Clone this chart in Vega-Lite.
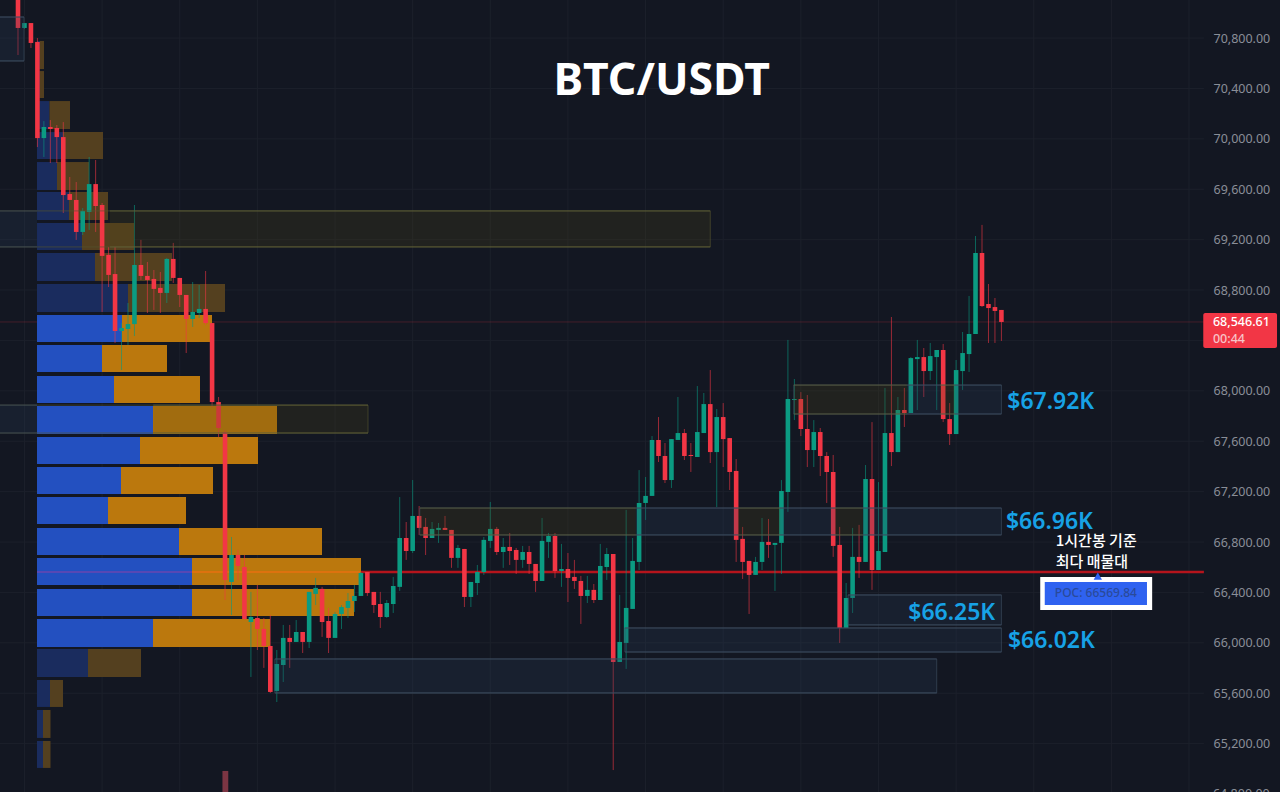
{"$schema":"https://vega.github.io/schema/vega-lite/v6.json","width":1280,"height":792,"padding":0,"autosize":{"type":"none"},"background":"#131722","view":{"stroke":null},"config":{"view":{"stroke":null}},
"datasets":{
"candles":[
{"t":0,"o":71142,"c":70880,"h":71181,"l":70665,"d":"down"},{"t":1,"o":70880,"c":70919,"h":70919,"l":70872,"d":"up"},{"t":2,"o":70919,"c":70761,"h":70919,"l":70721,"d":"down"},{"t":3,"o":70769,"c":70006,"h":70800,"l":69935,"d":"down"},{"t":4,"o":70006,"c":70094,"h":70141,"l":69856,"d":"up"},{"t":5,"o":70094,"c":70078,"h":70149,"l":69808,"d":"down"},{"t":6,"o":70086,"c":70014,"h":70110,"l":69808,"d":"down"},{"t":7,"o":70014,"c":69554,"h":70133,"l":69412,"d":"down"},{"t":8,"o":69562,"c":69515,"h":69697,"l":69515,"d":"down"},{"t":9,"o":69515,"c":69261,"h":69657,"l":69198,"d":"down"},
{"t":10,"o":69261,"c":69428,"h":69451,"l":69237,"d":"up"},{"t":11,"o":69420,"c":69641,"h":69856,"l":69277,"d":"up"},{"t":12,"o":69641,"c":69467,"h":69832,"l":69261,"d":"down"},{"t":13,"o":69475,"c":69071,"h":69491,"l":68626,"d":"down"},{"t":14,"o":69079,"c":68920,"h":69142,"l":68824,"d":"down"},{"t":15,"o":68927,"c":68475,"h":69142,"l":68380,"d":"down"},{"t":16,"o":68475,"c":68499,"h":68538,"l":68165,"d":"up"},{"t":17,"o":68491,"c":68530,"h":68697,"l":68364,"d":"up"},{"t":18,"o":68530,"c":68999,"h":69475,"l":68435,"d":"up"},{"t":19,"o":68999,"c":68912,"h":69198,"l":68880,"d":"down"},
{"t":20,"o":68912,"c":68880,"h":69023,"l":68618,"d":"down"},{"t":21,"o":68888,"c":68809,"h":68959,"l":68642,"d":"down"},{"t":22,"o":68817,"c":68777,"h":68943,"l":68618,"d":"down"},{"t":23,"o":68777,"c":69047,"h":69055,"l":68697,"d":"up"},{"t":24,"o":69047,"c":68896,"h":69174,"l":68856,"d":"down"},{"t":25,"o":68896,"c":68761,"h":68896,"l":68665,"d":"down"},{"t":26,"o":68761,"c":68570,"h":68761,"l":68300,"d":"down"},{"t":27,"o":68570,"c":68626,"h":68864,"l":68507,"d":"up"},{"t":28,"o":68618,"c":68650,"h":68840,"l":68578,"d":"up"},{"t":29,"o":68650,"c":68538,"h":68951,"l":68523,"d":"down"},
{"t":30,"o":68538,"c":67911,"h":68538,"l":67871,"d":"down"},{"t":31,"o":67911,"c":67705,"h":67951,"l":67633,"d":"down"},{"t":32,"o":67673,"c":66499,"h":67689,"l":66340,"d":"down"},{"t":33,"o":66483,"c":66697,"h":66840,"l":66221,"d":"up"},{"t":34,"o":66697,"c":66610,"h":66737,"l":66499,"d":"down"},{"t":35,"o":66602,"c":66189,"h":66697,"l":66181,"d":"down"},{"t":36,"o":66165,"c":66205,"h":66404,"l":65729,"d":"up"},{"t":37,"o":66197,"c":66110,"h":66459,"l":65943,"d":"down"},{"t":38,"o":66110,"c":65975,"h":66197,"l":65801,"d":"down"},{"t":39,"o":65975,"c":65610,"h":66221,"l":65602,"d":"down"},
{"t":40,"o":65618,"c":65832,"h":65943,"l":65530,"d":"up"},{"t":41,"o":65824,"c":66039,"h":66142,"l":65689,"d":"up"},{"t":42,"o":66039,"c":66007,"h":66142,"l":65801,"d":"down"},{"t":43,"o":66007,"c":66086,"h":66181,"l":66007,"d":"up"},{"t":44,"o":66086,"c":66007,"h":66086,"l":65919,"d":"down"},{"t":45,"o":66007,"c":66404,"h":66404,"l":65959,"d":"up"},{"t":46,"o":66388,"c":66436,"h":66515,"l":66300,"d":"up"},{"t":47,"o":66428,"c":66165,"h":66444,"l":66047,"d":"down"},{"t":48,"o":66173,"c":66039,"h":66277,"l":65919,"d":"down"},{"t":49,"o":66039,"c":66229,"h":66245,"l":66039,"d":"up"},
{"t":50,"o":66229,"c":66284,"h":66300,"l":66110,"d":"up"},{"t":51,"o":66277,"c":66332,"h":66395,"l":66197,"d":"up"},{"t":52,"o":66332,"c":66372,"h":66459,"l":66245,"d":"up"},{"t":53,"o":66372,"c":66554,"h":66562,"l":66372,"d":"up"},{"t":54,"o":66562,"c":66395,"h":66562,"l":66372,"d":"down"},{"t":55,"o":66404,"c":66300,"h":66404,"l":66237,"d":"down"},{"t":56,"o":66308,"c":66205,"h":66404,"l":66118,"d":"down"},{"t":57,"o":66205,"c":66316,"h":66340,"l":66197,"d":"up"},{"t":58,"o":66308,"c":66451,"h":66523,"l":66237,"d":"up"},{"t":59,"o":66444,"c":66832,"h":67157,"l":66412,"d":"up"},
{"t":60,"o":66832,"c":66729,"h":66959,"l":66658,"d":"down"},{"t":61,"o":66729,"c":67007,"h":67292,"l":66713,"d":"up"},{"t":62,"o":67007,"c":66912,"h":67086,"l":66856,"d":"down"},{"t":63,"o":66920,"c":66832,"h":66991,"l":66697,"d":"down"},{"t":64,"o":66832,"c":66904,"h":66959,"l":66832,"d":"up"},{"t":65,"o":66896,"c":66912,"h":66951,"l":66793,"d":"up"},{"t":66,"o":66912,"c":66896,"h":67007,"l":66896,"d":"down"},{"t":67,"o":66896,"c":66674,"h":66896,"l":66595,"d":"down"},{"t":68,"o":66674,"c":66753,"h":66777,"l":66595,"d":"up"},{"t":69,"o":66745,"c":66364,"h":66745,"l":66284,"d":"down"},
{"t":70,"o":66364,"c":66483,"h":66483,"l":66284,"d":"up"},{"t":71,"o":66475,"c":66562,"h":66618,"l":66380,"d":"up"},{"t":72,"o":66562,"c":66817,"h":66840,"l":66539,"d":"up"},{"t":73,"o":66809,"c":66904,"h":67118,"l":66753,"d":"up"},{"t":74,"o":66904,"c":66721,"h":66920,"l":66697,"d":"down"},{"t":75,"o":66721,"c":66761,"h":66832,"l":66595,"d":"up"},{"t":76,"o":66761,"c":66729,"h":66872,"l":66618,"d":"down"},{"t":77,"o":66737,"c":66658,"h":66753,"l":66546,"d":"down"},{"t":78,"o":66658,"c":66721,"h":66769,"l":66595,"d":"up"},{"t":79,"o":66721,"c":66626,"h":66769,"l":66546,"d":"down"},
{"t":80,"o":66626,"c":66491,"h":66626,"l":66404,"d":"down"},{"t":81,"o":66491,"c":66809,"h":66991,"l":66491,"d":"up"},{"t":82,"o":66801,"c":66848,"h":66872,"l":66674,"d":"up"},{"t":83,"o":66848,"c":66570,"h":66872,"l":66515,"d":"down"},{"t":84,"o":66570,"c":66586,"h":66785,"l":66444,"d":"up"},{"t":85,"o":66586,"c":66515,"h":66713,"l":66324,"d":"down"},{"t":86,"o":66523,"c":66491,"h":66658,"l":66428,"d":"down"},{"t":87,"o":66491,"c":66372,"h":66531,"l":66150,"d":"down"},{"t":88,"o":66372,"c":66420,"h":66531,"l":66316,"d":"up"},{"t":89,"o":66420,"c":66340,"h":66467,"l":66316,"d":"down"},
{"t":90,"o":66340,"c":66610,"h":66785,"l":66340,"d":"up"},{"t":91,"o":66602,"c":66705,"h":66753,"l":66499,"d":"up"},{"t":92,"o":66705,"c":65848,"h":66705,"l":64990,"d":"down"},{"t":93,"o":65848,"c":66007,"h":66380,"l":65848,"d":"up"},{"t":94,"o":65999,"c":66277,"h":67055,"l":65793,"d":"up"},{"t":95,"o":66269,"c":66650,"h":66832,"l":66269,"d":"up"},{"t":96,"o":66642,"c":67110,"h":67371,"l":66578,"d":"up"},{"t":97,"o":67110,"c":67166,"h":67316,"l":66975,"d":"up"},{"t":98,"o":67166,"c":67610,"h":67641,"l":67166,"d":"up"},{"t":99,"o":67610,"c":67483,"h":67792,"l":67435,"d":"down"},
{"t":100,"o":67483,"c":67292,"h":67586,"l":67268,"d":"down"},{"t":101,"o":67292,"c":67617,"h":67617,"l":67229,"d":"up"},{"t":102,"o":67610,"c":67665,"h":67951,"l":67610,"d":"up"},{"t":103,"o":67665,"c":67483,"h":67697,"l":67451,"d":"down"},{"t":104,"o":67491,"c":67483,"h":67586,"l":67356,"d":"down"},{"t":105,"o":67475,"c":67673,"h":68038,"l":67475,"d":"up"},{"t":106,"o":67665,"c":67895,"h":67983,"l":67665,"d":"up"},{"t":107,"o":67895,"c":67514,"h":68165,"l":67427,"d":"down"},{"t":108,"o":67514,"c":67792,"h":67856,"l":67078,"d":"up"},{"t":109,"o":67792,"c":67617,"h":67903,"l":67395,"d":"down"},
{"t":110,"o":67625,"c":67356,"h":67625,"l":67213,"d":"down"},{"t":111,"o":67364,"c":66817,"h":67459,"l":66642,"d":"down"},{"t":112,"o":66825,"c":66642,"h":66920,"l":66507,"d":"down"},{"t":113,"o":66650,"c":66539,"h":66650,"l":66229,"d":"down"},{"t":114,"o":66539,"c":66642,"h":66682,"l":66539,"d":"up"},{"t":115,"o":66642,"c":66801,"h":66991,"l":66578,"d":"up"},{"t":116,"o":66801,"c":66777,"h":66983,"l":66674,"d":"down"},{"t":117,"o":66777,"c":66793,"h":66793,"l":66412,"d":"up"},{"t":118,"o":66793,"c":67205,"h":67292,"l":66546,"d":"up"},{"t":119,"o":67197,"c":67935,"h":68404,"l":67039,"d":"up"},
{"t":120,"o":67927,"c":67935,"h":68094,"l":67768,"d":"up"},{"t":121,"o":67935,"c":67697,"h":67990,"l":67641,"d":"down"},{"t":122,"o":67697,"c":67530,"h":67967,"l":67395,"d":"down"},{"t":123,"o":67530,"c":67673,"h":67768,"l":67395,"d":"up"},{"t":124,"o":67673,"c":67483,"h":67705,"l":67324,"d":"down"},{"t":125,"o":67483,"c":67356,"h":67514,"l":67110,"d":"down"},{"t":126,"o":67356,"c":66769,"h":67491,"l":66682,"d":"down"},{"t":127,"o":66777,"c":66118,"h":66920,"l":65999,"d":"down"},{"t":128,"o":66118,"c":66356,"h":66475,"l":66118,"d":"up"},{"t":129,"o":66356,"c":66682,"h":66912,"l":66237,"d":"up"},
{"t":130,"o":66682,"c":66642,"h":66936,"l":66515,"d":"down"},{"t":131,"o":66642,"c":67300,"h":67411,"l":66642,"d":"up"},{"t":132,"o":67300,"c":66578,"h":67752,"l":66420,"d":"down"},{"t":133,"o":66578,"c":66729,"h":67276,"l":66578,"d":"up"},{"t":134,"o":66721,"c":67665,"h":68023,"l":66721,"d":"up"},{"t":135,"o":67665,"c":67514,"h":68586,"l":67403,"d":"down"},{"t":136,"o":67514,"c":67848,"h":67951,"l":67514,"d":"up"},{"t":137,"o":67848,"c":67824,"h":68023,"l":67713,"d":"down"},{"t":138,"o":67824,"c":68260,"h":68268,"l":67824,"d":"up"},{"t":139,"o":68252,"c":68268,"h":68404,"l":67848,"d":"up"},
{"t":140,"o":68268,"c":68157,"h":68340,"l":67951,"d":"down"},{"t":141,"o":68157,"c":68276,"h":68380,"l":68086,"d":"up"},{"t":142,"o":68268,"c":68324,"h":68324,"l":67848,"d":"up"},{"t":143,"o":68324,"c":67776,"h":68372,"l":67752,"d":"down"},{"t":144,"o":67776,"c":67657,"h":67903,"l":67570,"d":"down"},{"t":145,"o":67657,"c":68165,"h":68245,"l":67657,"d":"up"},{"t":146,"o":68157,"c":68300,"h":68467,"l":68007,"d":"up"},{"t":147,"o":68292,"c":68451,"h":68753,"l":68149,"d":"up"},{"t":148,"o":68451,"c":69094,"h":69229,"l":68451,"d":"up"},{"t":149,"o":69094,"c":68673,"h":69317,"l":68665,"d":"down"},
{"t":150,"o":68689,"c":68657,"h":68848,"l":68380,"d":"down"},{"t":151,"o":68665,"c":68634,"h":68737,"l":68380,"d":"down"},{"t":152,"o":68642,"c":68546.61,"h":68642,"l":68396,"d":"down"}],
"profile":[
{"hi":70777,"lo":70554,"v0":0,"buy":3,"total":7,"a":false},{"hi":70538,"lo":70324,"v0":0,"buy":3,"total":7,"a":false},{"hi":70300,"lo":70078,"v0":0,"buy":12.5,"total":33,"a":false},{"hi":70054,"lo":69840,"v0":0,"buy":26,"total":66,"a":false},{"hi":69816,"lo":69594,"v0":0,"buy":20,"total":52,"a":false},{"hi":69578,"lo":69356,"v0":0,"buy":32,"total":71,"a":false},{"hi":69332,"lo":69118,"v0":0,"buy":45,"total":97,"a":false},{"hi":69094,"lo":68872,"v0":0,"buy":58,"total":135,"a":false},{"hi":68848,"lo":68626,"v0":0,"buy":91,"total":188,"a":false},
{"hi":68602,"lo":68388,"v0":0,"buy":85,"total":175,"a":true},{"hi":68364,"lo":68149,"v0":0,"buy":65,"total":130,"a":true},{"hi":68118,"lo":67903,"v0":0,"buy":77,"total":163,"a":true},{"hi":67879,"lo":67657,"v0":0,"buy":116,"total":240,"a":true},{"hi":67633,"lo":67419,"v0":0,"buy":103,"total":221,"a":true},{"hi":67395,"lo":67181,"v0":0,"buy":84,"total":176,"a":true},{"hi":67157,"lo":66943,"v0":0,"buy":71,"total":149,"a":true},{"hi":66912,"lo":66697,"v0":0,"buy":142,"total":285,"a":true},{"hi":66674,"lo":66459,"v0":0,"buy":155,"total":324,"a":true},{"hi":66428,"lo":66213,"v0":0,"buy":155,"total":317,"a":true},{"hi":66189,"lo":65967,"v0":0,"buy":116,"total":233,"a":true},
{"hi":65951,"lo":65729,"v0":0,"buy":51,"total":104,"a":false},{"hi":65705,"lo":65491,"v0":0,"buy":13,"total":26,"a":false},{"hi":65467,"lo":65245,"v0":0,"buy":6,"total":13.5,"a":false},{"hi":65221,"lo":65007,"v0":0,"buy":6,"total":13.5,"a":false}],
"zones":[
{"t0":-4,"t1":0.93,"hi":70967,"lo":70618,"k":"b"},
{"t0":-4,"t1":107,"hi":69428,"lo":69142,"k":"y"},
{"t0":-4,"t1":54.1,"hi":67887,"lo":67665,"k":"y"},
{"t0":62.1,"t1":152,"hi":67070,"lo":66856,"k":"b"},
{"t0":119.9,"t1":152,"hi":68046,"lo":67816,"k":"b"},
{"t0":128.3,"t1":152,"hi":66380,"lo":66142,"k":"b"},
{"t0":93.8,"t1":152,"hi":66118,"lo":65927,"k":"b"},
{"t0":39.7,"t1":142,"hi":65872,"lo":65602,"k":"b"}],
"segments":[
{"t0":-4,"t1":0.93,"hi":70967,"lo":70618,"k":"b"},
{"t0":-4,"t1":2.94,"hi":69428,"lo":69142,"k":"b"},
{"t0":14.2,"t1":107,"hi":69428,"lo":69142,"k":"y"},
{"t0":-4,"t1":2.94,"hi":67887,"lo":67665,"k":"b"},
{"t0":20.9,"t1":54.1,"hi":67887,"lo":67665,"k":"y"},
{"t0":62.1,"t1":95.5,"hi":67070,"lo":66856,"k":"y"},
{"t0":95.5,"t1":111.3,"hi":67070,"lo":66856,"k":"b"},
{"t0":111.3,"t1":117.8,"hi":67070,"lo":66856,"k":"y"},
{"t0":117.8,"t1":126.3,"hi":67070,"lo":66856,"k":"b"},
{"t0":126.3,"t1":130.6,"hi":67070,"lo":66856,"k":"y"},
{"t0":130.6,"t1":152,"hi":67070,"lo":66856,"k":"b"},
{"t0":119.9,"t1":137.4,"hi":68046,"lo":67816,"k":"y"},
{"t0":137.4,"t1":142.5,"hi":68046,"lo":67816,"k":"b"},
{"t0":142.5,"t1":144.8,"hi":68046,"lo":67816,"k":"y"},
{"t0":144.8,"t1":152,"hi":68046,"lo":67816,"k":"b"},
{"t0":128.3,"t1":152,"hi":66380,"lo":66142,"k":"b"},
{"t0":93.8,"t1":152,"hi":66118,"lo":65927,"k":"b"},
{"t0":39.7,"t1":142,"hi":65872,"lo":65602,"k":"b"}],
"ticks":[{"p":70800,"t0":-2.78,"t1":183.3},{"p":70400,"t0":-2.78,"t1":183.3},{"p":70000,"t0":-2.78,"t1":183.3},{"p":69600,"t0":-2.78,"t1":183.3},{"p":69200,"t0":-2.78,"t1":183.3},{"p":68800,"t0":-2.78,"t1":183.3},{"p":68400,"t0":-2.78,"t1":183.3},{"p":68000,"t0":-2.78,"t1":183.3},{"p":67600,"t0":-2.78,"t1":183.3},{"p":67200,"t0":-2.78,"t1":183.3},{"p":66800,"t0":-2.78,"t1":183.3},{"p":66400,"t0":-2.78,"t1":183.3},{"p":66000,"t0":-2.78,"t1":183.3},{"p":65600,"t0":-2.78,"t1":183.3},{"p":65200,"t0":-2.78,"t1":183.3}],
"vticks":[{"t":1},{"t":13},{"t":25},{"t":37},{"t":49},{"t":61},{"t":73},{"t":85},{"t":97},{"t":109},{"t":121},{"t":133},{"t":145},{"t":157},{"t":169},{"t":181}]
},
"layer":[
{"data":{"name":"ticks"},"mark":{"type":"rule","stroke":"#1c202b","strokeWidth":1},"encoding":{"y":{"field":"p","type":"quantitative","scale":{"domain":[64816,71102],"nice":false,"zero":false},"axis":{"orient":"right","offset":-72,"title":null,"values":[70800,70400,70000,69600,69200,68800,68400,68000,67600,67200,66800,66400,66000,65600,65200],"format":",.2f","grid":false,"domain":false,"ticks":false,"labelPadding":5,"labelAlign":"left","labelColor":"#8a8e98","labelFont":"Noto Sans","labelFontSize":12.5,"labelBound":false,"labelFlush":false,"labelOverlap":false}},"x":{"field":"t0","type":"quantitative","scale":{"domain":[-2.782,195.06]},"axis":null},"x2":{"field":"t1"}}},
{"data":{"name":"vticks"},"mark":{"type":"rule","stroke":"#1c202b","strokeWidth":1},"encoding":{"x":{"field":"t","type":"quantitative","scale":{"domain":[-2.782,195.06]},"axis":null}}},
{"data":{"values":[{"p":68546.61,"t0":-2.78,"t1":183.3}]},"mark":{"type":"rule","stroke":"#f23645","strokeWidth":1,"opacity":0.22},"encoding":{"y":{"field":"p","type":"quantitative"},"x":{"field":"t0","type":"quantitative","scale":{"domain":[-2.782,195.06]},"axis":null},"x2":{"field":"t1"}}},
{"data":{"name":"profile"},"mark":{"type":"rect"},"encoding":{"x":{"field":"v0","type":"quantitative","scale":{"domain":[-37,1243]},"axis":null},"x2":{"field":"buy"},"y":{"field":"hi","type":"quantitative"},"y2":{"field":"lo"},"fill":{"condition":{"test":"datum.a","value":"#2350c0"},"value":"#1a2c5e"}}},
{"data":{"name":"profile"},"mark":{"type":"rect"},"encoding":{"x":{"field":"buy","type":"quantitative","scale":{"domain":[-37,1243]},"axis":null},"x2":{"field":"total"},"y":{"field":"hi","type":"quantitative"},"y2":{"field":"lo"},"fill":{"condition":{"test":"datum.a","value":"#bb780d"},"value":"#54401f"}}},
{"data":{"values":[{"t0":2.94,"t1":26.9,"p":66562}]},"mark":{"type":"rule","stroke":"#6a46b0","strokeWidth":1.5},"encoding":{"x":{"field":"t0","type":"quantitative","scale":{"domain":[-2.782,195.06]},"axis":null},"x2":{"field":"t1"},"y":{"field":"p","type":"quantitative"}}},
{"data":{"values":[{"t0":26.9,"t1":53,"p":66562}]},"mark":{"type":"rule","stroke":"#e8700f","strokeWidth":1.5},"encoding":{"x":{"field":"t0","type":"quantitative","scale":{"domain":[-2.782,195.06]},"axis":null},"x2":{"field":"t1"},"y":{"field":"p","type":"quantitative"}}},
{"data":{"values":[{"t0":53,"t1":183.3,"p":66562}]},"mark":{"type":"rule","stroke":"#b5141c","strokeWidth":2.5},"encoding":{"x":{"field":"t0","type":"quantitative","scale":{"domain":[-2.782,195.06]},"axis":null},"x2":{"field":"t1"},"y":{"field":"p","type":"quantitative"}}},
{"data":{"values":[{"t0":31.6,"t1":32.5,"hi":64983,"lo":64816}]},"mark":{"type":"rect","fill":"#7c3543"},"encoding":{"x":{"field":"t0","type":"quantitative","scale":{"domain":[-2.782,195.06]},"axis":null},"x2":{"field":"t1"},"y":{"field":"hi","type":"quantitative"},"y2":{"field":"lo"}}},
{"data":{"name":"candles"},"mark":{"type":"rule","strokeWidth":1,"opacity":0.6,"clip":true},"encoding":{"x":{"field":"t","type":"quantitative","scale":{"domain":[-2.782,195.06]},"axis":null},"y":{"field":"h","type":"quantitative"},"y2":{"field":"l"},"color":{"field":"d","type":"nominal","scale":{"domain":["up","down"],"range":["#089981","#f23645"]},"legend":null}}},
{"data":{"name":"candles"},"mark":{"type":"rule","strokeWidth":4.6,"clip":true},"encoding":{"x":{"field":"t","type":"quantitative","scale":{"domain":[-2.782,195.06]},"axis":null},"y":{"field":"o","type":"quantitative"},"y2":{"field":"c"},"color":{"field":"d","type":"nominal","scale":{"domain":["up","down"],"range":["#0b9b82","#f23645"]},"legend":null}}},
{"data":{"name":"segments"},"mark":{"type":"rect","opacity":0.24},"encoding":{"x":{"field":"t0","type":"quantitative","scale":{"domain":[-2.782,195.06]},"axis":null},"x2":{"field":"t1"},"y":{"field":"hi","type":"quantitative"},"y2":{"field":"lo"},"color":{"field":"k","type":"nominal","scale":{"domain":["b","y"],"range":["#2a3e5a","#50491a"]},"legend":null}}},
{"data":{"name":"zones"},"mark":{"type":"rect","fillOpacity":0,"strokeWidth":0.8,"strokeOpacity":0.8},"encoding":{"x":{"field":"t0","type":"quantitative","scale":{"domain":[-2.782,195.06]},"axis":null},"x2":{"field":"t1"},"y":{"field":"hi","type":"quantitative"},"y2":{"field":"lo"},"stroke":{"field":"k","type":"nominal","scale":{"domain":["b","y"],"range":["#3d4d60","#55552f"]},"legend":null}}},
{"data":{"name":"segments"},"mark":{"type":"rule","strokeWidth":0.8,"opacity":0.9},"encoding":{"x":{"field":"t0","type":"quantitative","scale":{"domain":[-2.782,195.06]},"axis":null},"x2":{"field":"t1"},"y":{"field":"hi","type":"quantitative"},"color":{"field":"k","type":"nominal","scale":{"domain":["b","y"],"range":["#3d4d60","#66663a"]},"legend":null}}},
{"data":{"name":"segments"},"mark":{"type":"rule","strokeWidth":0.8,"opacity":0.9},"encoding":{"x":{"field":"t0","type":"quantitative","scale":{"domain":[-2.782,195.06]},"axis":null},"x2":{"field":"t1"},"y":{"field":"lo","type":"quantitative"},"color":{"field":"k","type":"nominal","scale":{"domain":["b","y"],"range":["#3d4d60","#66663a"]},"legend":null}}},
{"data":{"values":[{"t0":158,"t1":175.3,"hi":66522,"lo":66261}]},"mark":{"type":"rect","fill":"#ffffff"},"encoding":{"x":{"field":"t0","type":"quantitative","scale":{"domain":[-2.782,195.06]},"axis":null},"x2":{"field":"t1"},"y":{"field":"hi","type":"quantitative"},"y2":{"field":"lo"}}},
{"data":{"values":[{"t0":158.7,"t1":174.5,"hi":66483,"lo":66300}]},"mark":{"type":"rect","fill":"#2f62f0"},"encoding":{"x":{"field":"t0","type":"quantitative","scale":{"domain":[-2.782,195.06]},"axis":null},"x2":{"field":"t1"},"y":{"field":"hi","type":"quantitative"},"y2":{"field":"lo"}}},
{"data":{"values":[{"t":166.9,"p":66530}]},"mark":{"type":"point","shape":"triangle-up","filled":true,"size":70,"fill":"#2f62f0","opacity":1},"encoding":{"x":{"field":"t","type":"quantitative","scale":{"domain":[-2.782,195.06]},"axis":null},"y":{"field":"p","type":"quantitative"}}},
{"data":{"values":[{"t":166.6,"p":66395,"s":"POC: 66569.84"}]},"mark":{"type":"text","font":"Noto Sans","fontSize":12,"fontWeight":500,"color":"#2a4a9a","align":"center","baseline":"middle"},"encoding":{"x":{"field":"t","type":"quantitative","scale":{"domain":[-2.782,195.06]},"axis":null},"y":{"field":"p","type":"quantitative"},"text":{"field":"s"}}},
{"data":{"values":[{"t0":183.2,"t1":194.6,"hi":68618,"lo":68340}]},"mark":{"type":"rect","fill":"#f23645","cornerRadius":2},"encoding":{"x":{"field":"t0","type":"quantitative","scale":{"domain":[-2.782,195.06]},"axis":null},"x2":{"field":"t1"},"y":{"field":"hi","type":"quantitative"},"y2":{"field":"lo"}}},
{"data":{"values":[{"t":184.7,"p":68546,"s":"68,546.61","c":"a"},{"t":184.7,"p":68411,"s":"00:44","c":"b"}]},"mark":{"type":"text","font":"Noto Sans","fontSize":12.5,"fontWeight":500,"align":"left","baseline":"middle"},"encoding":{"x":{"field":"t","type":"quantitative","scale":{"domain":[-2.782,195.06]},"axis":null},"y":{"field":"p","type":"quantitative"},"text":{"field":"s"},"color":{"field":"c","type":"nominal","scale":{"domain":["a","b"],"range":["#ffffff","#f8c4c9"]},"legend":null}}},
{"data":{"values":[{"t":184.7,"p":64800,"s":"64,800.00"}]},"mark":{"type":"text","font":"Noto Sans","fontSize":12.5,"color":"#8a8e98","align":"left","baseline":"middle"},"encoding":{"x":{"field":"t","type":"quantitative","scale":{"domain":[-2.782,195.06]},"axis":null},"y":{"field":"p","type":"quantitative"},"text":{"field":"s"}}},
{"data":{"values":[{"t":152.9,"p":67915,"s":"$67.92K"},{"t":152.7,"p":66955,"s":"$66.96K"},{"t":137.6,"p":66233,"s":"$66.25K"},{"t":153,"p":66011,"s":"$66.02K"}]},"mark":{"type":"text","font":"Noto Sans","fontSize":23,"fontWeight":600,"color":"#17a2e6","align":"left","baseline":"middle"},"encoding":{"x":{"field":"t","type":"quantitative","scale":{"domain":[-2.782,195.06]},"axis":null},"y":{"field":"p","type":"quantitative"},"text":{"field":"s"}}},
{"data":{"values":[{"t":160.4,"p":66808,"s":"1시간봉 기준"},{"t":160.4,"p":66642,"s":"최다 매물대"}]},"mark":{"type":"text","font":"Noto Sans CJK KR","fontSize":15,"fontWeight":500,"color":"#ffffff","align":"left","baseline":"middle"},"encoding":{"x":{"field":"t","type":"quantitative","scale":{"domain":[-2.782,195.06]},"axis":null},"y":{"field":"p","type":"quantitative"},"text":{"field":"s"}}},
{"data":{"values":[{"t":99.5,"p":70451,"s":"BTC/USDT"}]},"mark":{"type":"text","font":"Noto Sans","fontSize":44.5,"fontWeight":700,"color":"#ffffff","align":"center","baseline":"middle"},"encoding":{"x":{"field":"t","type":"quantitative","scale":{"domain":[-2.782,195.06]},"axis":null},"y":{"field":"p","type":"quantitative"},"text":{"field":"s"}}}
],
"resolve":{"scale":{"x":"independent","color":"independent","stroke":"independent"}}}
